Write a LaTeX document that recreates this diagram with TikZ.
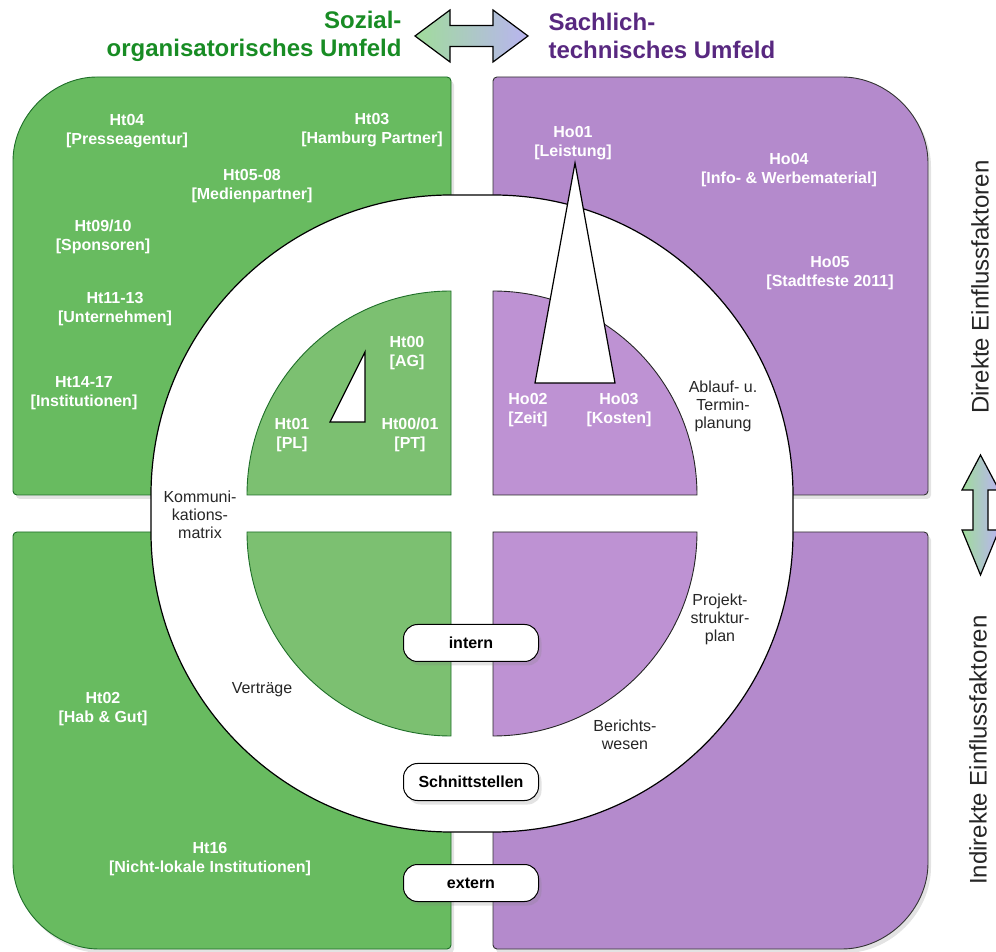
\documentclass[tikz,border=0pt]{standalone}
\usepackage{fontspec}
\setmainfont{Liberation Sans}
\usetikzlibrary{shadows}

\definecolor{outergreen}{RGB}{104,187,96}
\definecolor{innergreen}{RGB}{124,192,113}
\definecolor{outerpurple}{RGB}{180,138,204}
\definecolor{innerpurple}{RGB}{190,146,211}
\definecolor{greenline}{RGB}{30,110,40}
\definecolor{titlegreen}{RGB}{24,140,36}
\definecolor{titlepurple}{RGB}{88,40,128}
\definecolor{arrowgreen}{RGB}{160,220,155}
\definecolor{arrowlav}{RGB}{185,180,240}

\begin{document}
\begin{tikzpicture}[x=1pt,y=1pt,
	boxshadow/.style={drop shadow={opacity=0.22,shadow xshift=3pt,shadow yshift=-4pt}},
	greenbox/.style={fill=outergreen,draw=greenline,line width=0.9pt,rounded corners=4pt,boxshadow},
	purplebox/.style={fill=outerpurple,draw=black!80,line width=0.9pt,rounded corners=4pt,boxshadow},
	greenquarter/.style={fill=innergreen,draw=greenline,line width=0.9pt},
	purplequarter/.style={fill=innerpurple,draw=black!85,line width=0.9pt},
	factor/.style={text=white,font=\fontsize{16}{18.5}\selectfont\bfseries,align=center},
	method/.style={text=black!85,font=\fontsize{16}{18}\selectfont,align=center},
	tag/.style={draw=black,fill=white,line width=1pt,rounded corners=14pt,minimum width=135pt,minimum height=37pt,font=\fontsize{16}{18}\selectfont\bfseries,boxshadow},
	heading/.style={font=\fontsize{24}{28}\selectfont\bfseries},
	side/.style={text=black!85,font=\fontsize{24}{28}\selectfont,rotate=90},
	bigarrow/.style={draw=black,line width=1.2pt,left color=arrowgreen,right color=arrowlav}]

	\useasboundingbox (0,0) rectangle (996,951);

	% the four fields
	\draw[greenbox] (13,456) -- (13,786) arc[start angle=180,end angle=90,radius=88] -- (451,874) -- (451,456) -- cycle;
	\draw[purplebox] (493,456) -- (493,874) -- (838,874) arc[start angle=90,end angle=0,radius=90] -- (928,456) -- cycle;
	\draw[greenbox] (13,419) -- (13,92) arc[start angle=180,end angle=270,radius=90] -- (451,2) -- (451,419) -- cycle;
	\draw[purplebox] (493,419) -- (928,419) -- (928,92) arc[start angle=0,end angle=-90,radius=90] -- (493,2) -- cycle;

	% ring
	\draw[fill=white,line width=1.2pt] (151,456) arc[start angle=180,end angle=90,radius=300] -- (493,756)
		arc[start angle=90,end angle=0,radius=300] -- (793,419)
		arc[start angle=0,end angle=-90,radius=300] -- (451,119)
		arc[start angle=270,end angle=180,radius=300] -- cycle;

	% inner quarters
	\draw[greenquarter] (451,456) -- (247,456) arc[start angle=180,end angle=90,radius=204] -- cycle;
	\draw[purplequarter] (493,456) -- (493,660) arc[start angle=90,end angle=0,radius=204] -- cycle;
	\draw[greenquarter] (451,419) -- (451,215) arc[start angle=270,end angle=180,radius=204] -- cycle;
	\draw[purplequarter] (493,419) -- (697,419) arc[start angle=0,end angle=-90,radius=204] -- cycle;

	% triangles
	\draw[fill=white,line width=1.2pt] (330,529) -- (365,599) -- (365,529) -- cycle;
	\draw[fill=white,line width=1.2pt] (535,568) -- (575,788) -- (615,568) -- cycle;

	% double arrows
	\draw[bigarrow] (415,915) -- (450,941) -- (450,925.5) -- (493,925.5) -- (493,941) -- (528,915)
		-- (493,889) -- (493,904.5) -- (450,904.5) -- (450,889) -- cycle;
	\draw[bigarrow] (980.5,496) -- (999,461) -- (988,461) -- (988,421) -- (999,421) -- (980.5,376)
		-- (962,421) -- (973,421) -- (973,461) -- (962,461) -- cycle;

	% headings
	\node[heading,text=titlegreen,anchor=east,align=right] (sozial) at (405,915) {Sozial-\\organisatorisches Umfeld};
	\node[heading,text=titlepurple,anchor=west,align=left] (sachlich) at (545,915) {Sachlich-\\technisches Umfeld};
	\node[side] (direkt) at (980,664) {Direkte Einflussfaktoren};
	\node[side] (indirekt) at (978,201) {Indirekte Einflussfaktoren};

	% factors
	\node[factor] (ht04) at (127,820) {Ht04\\{[Presseagentur]}};
	\node[factor] (ht03) at (372,821) {Ht03\\{[Hamburg Partner]}};
	\node[factor] (ht05) at (252,765) {Ht05-08\\{[Medienpartner]}};
	\node[factor] (ht09) at (103,714) {Ht09/10\\{[Sponsoren]}};
	\node[factor] (ht11) at (115,642) {Ht11-13\\{[Unternehmen]}};
	\node[factor] (ht14) at (84,558) {Ht14-17\\{[Institutionen]}};
	\node[factor] (ht00) at (407,598) {Ht00\\{[AG]}};
	\node[factor] (ht01) at (292,516) {Ht01\\{[PL]}};
	\node[factor] (ht0001) at (410,516) {Ht00/01\\{[PT]}};
	\node[factor] (ht02) at (103,242) {Ht02\\{[Hab \& Gut]}};
	\node[factor] (ht16) at (210,92) {Ht16\\{[Nicht-lokale Institutionen]}};
	\node[factor] (ho01) at (573,808) {Ho01\\{[Leistung]}};
	\node[factor] (ho04) at (789,781) {Ho04\\{[Info- \& Werbematerial]}};
	\node[factor] (ho05) at (830,678) {Ho05\\{[Stadtfeste 2011]}};
	\node[factor] (ho02) at (528,541) {Ho02\\{[Zeit]}};
	\node[factor] (ho03) at (619,541) {Ho03\\{[Kosten]}};

	% methods on the ring
	\node[method] (komm) at (200,436) {Kommuni-\\kations-\\matrix};
	\node[method] (ablauf) at (723,545) {Ablauf- u.\\Termin-\\planung};
	\node[method] (psp) at (720,332) {Projekt-\\struktur-\\plan};
	\node[method] (bericht) at (625,216) {Berichts-\\wesen};
	\node[method] (vertrag) at (262,261) {Verträge};

	% tags
	\node[tag] (intern) at (471,308) {intern};
	\node[tag] (schnitt) at (471,169) {Schnittstellen};
	\node[tag] (extern) at (471,68) {extern};
\end{tikzpicture}
\end{document}
